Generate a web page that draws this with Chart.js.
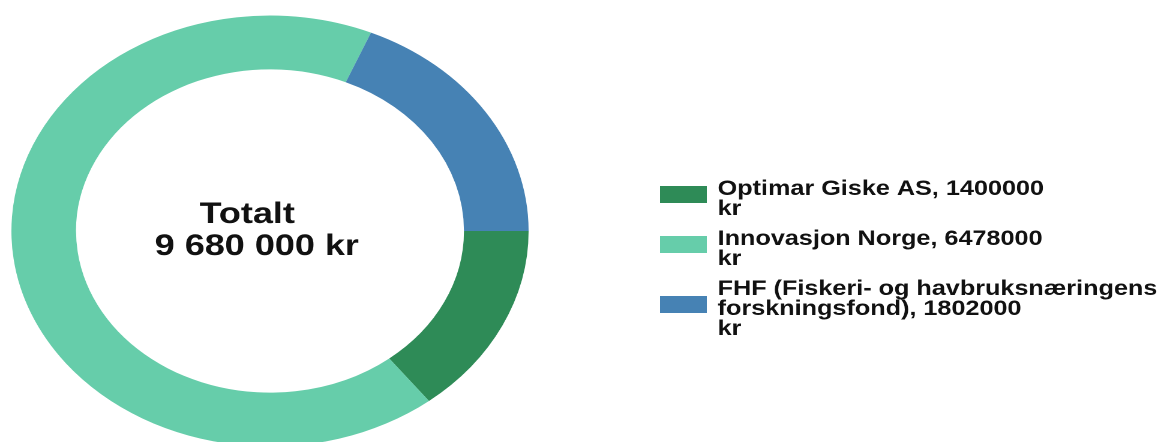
<!DOCTYPE html>
<html>
<head>
<meta charset="utf-8">
<script src="https://cdn.jsdelivr.net/npm/chart.js@4"></script>
<style>
  html, body { margin: 0; padding: 0; background: #fff; overflow: hidden; }
  /* the reference picture is stretched sideways, so the whole chart is too */
  #wrap { width: 975px; height: 448px; transform: scaleX(1.2); transform-origin: 0 0; }
</style>
</head>
<body>
<div id="wrap"><canvas id="myDoughnut"></canvas></div>
<script>
const categories = [
  ['Optimar Giske AS'],
  ['Innovasjon Norge'],
  ['FHF (Fiskeri- og havbruksnæringens', 'forskningsfond)']
];
const amounts = [1400000, 6478000, 1802000];
const sliceColors = ['#2e8b57', '#66cdaa', '#4682b4'];
const centerLines = ['Totalt', '9 680 000 kr'];

const FONT = '"Liberation Sans", Arial, sans-serif';

// Etiquetas de la leyenda: nombre, importe y "kr" en su propia línea
const legendLines = categories.map((name, i) => {
  const lines = name.slice(0, -1);
  lines.push(name[name.length - 1] + ', ' + amounts[i]);
  lines.push('kr');
  return lines;
});

// Texto central
const centerText = {
  id: 'centerText',
  afterDraw(chart) {
    const arc = chart.getDatasetMeta(0).data[0];
    const ctx = chart.ctx;
    ctx.save();
    ctx.font = 'bold 30px ' + FONT;
    ctx.fillStyle = '#111';
    ctx.textAlign = 'center';
    ctx.textBaseline = 'alphabetic';
    ctx.fillText(centerLines[0], arc.x - 19, arc.y - 8);
    ctx.fillText(centerLines[1], arc.x - 11, arc.y + 24);
    ctx.restore();
  }
};

// Leyenda a la derecha, con el cuadro centrado en el bloque de texto
const sideLegend = {
  id: 'sideLegend',
  afterDraw(chart) {
    const ctx = chart.ctx;
    const colors = chart.data.datasets[0].backgroundColor;
    let y = 195;
    ctx.save();
    ctx.font = 'bold 21px ' + FONT;
    ctx.textAlign = 'left';
    ctx.textBaseline = 'alphabetic';
    chart.data.labels.forEach((lines, i) => {
      const first = y;
      ctx.fillStyle = '#111';
      lines.forEach((line, j) => {
        ctx.fillText(line, 598, y);
        if (j < lines.length - 1) y += 20;
      });
      const mid = (first + y) / 2 - 10.5;
      ctx.fillStyle = colors[i];
      ctx.fillRect(550, mid - 8.5, 39, 17);
      y += 30;
    });
    ctx.restore();
  }
};

new Chart(document.getElementById('myDoughnut'), {
  type: 'doughnut',
  data: {
    labels: legendLines,
    datasets: [{
      data: amounts,
      backgroundColor: sliceColors,
      borderWidth: 0
    }]
  },
  options: {
    responsive: true,
    maintainAspectRatio: false,
    devicePixelRatio: 2,
    animation: false,
    rotation: 90,
    cutout: '75%',
    radius: 215.5,
    layout: { padding: { top: 14, bottom: 0, left: 0, right: 525 } },
    plugins: {
      legend: { display: false },
      tooltip: { enabled: false }
    }
  },
  plugins: [centerText, sideLegend]
});
</script>
</body>
</html>
